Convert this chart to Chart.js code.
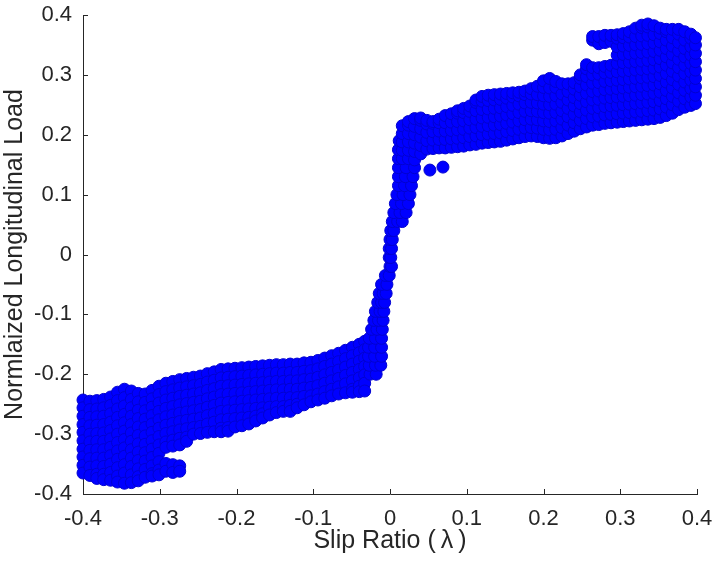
<!DOCTYPE html>
<html>
<head>
<meta charset="utf-8">
<title>Slip ratio vs longitudinal load</title>
<script src="https://cdn.jsdelivr.net/npm/chart.js@4.4.0/dist/chart.umd.min.js"></script>
<style>
  html, body { margin: 0; padding: 0; background: #fff; }
  canvas { display: block; }
</style>
</head>
<body>
<canvas id="slipChart" width="713" height="565"></canvas>
<script>
// axis ticks
const slipTicks = [-0.4, -0.3, -0.2, -0.1, 0, 0.1, 0.2, 0.3, 0.4];
const slipLabels = ['-0.4', '-0.3', '-0.2', '-0.1', '0', '0.1', '0.2', '0.3', '0.4'];
const loadTicks = [-0.4, -0.3, -0.2, -0.1, 0, 0.1, 0.2, 0.3, 0.4];
const loadLabels = ['-0.4', '-0.3', '-0.2', '-0.1', '0', '0.1', '0.2', '0.3', '0.4'];

// measured samples, grouped by part of the curve
// column form: [slip, load, load, ...]
const leftBlock = [
  [-0.400, -0.243, -0.256, -0.270, -0.284, -0.297, -0.311, -0.325, -0.338, -0.352, -0.365],
  [-0.391, -0.245, -0.259, -0.272, -0.286, -0.300, -0.313, -0.327, -0.341, -0.355, -0.369],
  [-0.382, -0.244, -0.258, -0.271, -0.285, -0.299, -0.312, -0.326, -0.340, -0.353, -0.367, -0.374],
  [-0.373, -0.242, -0.256, -0.270, -0.284, -0.298, -0.312, -0.326, -0.340, -0.354, -0.367, -0.376],
  [-0.364, -0.238, -0.252, -0.266, -0.280, -0.294, -0.308, -0.322, -0.336, -0.350, -0.364, -0.377],
  [-0.355, -0.230, -0.244, -0.258, -0.272, -0.286, -0.300, -0.314, -0.328, -0.342, -0.356, -0.370, -0.380],
  [-0.346, -0.225, -0.239, -0.253, -0.267, -0.281, -0.295, -0.309, -0.323, -0.337, -0.351, -0.365, -0.382],
  [-0.337, -0.228, -0.242, -0.256, -0.270, -0.284, -0.298, -0.312, -0.326, -0.340, -0.354, -0.368, -0.381],
  [-0.328, -0.232, -0.246, -0.260, -0.274, -0.288, -0.302, -0.316, -0.330, -0.344, -0.358, -0.371, -0.378],
  [-0.319, -0.233, -0.247, -0.261, -0.275, -0.289, -0.303, -0.317, -0.331, -0.345, -0.359, -0.372],
  [-0.310, -0.227, -0.241, -0.255, -0.269, -0.283, -0.297, -0.311, -0.325, -0.339, -0.353, -0.366, -0.370],
  [-0.301, -0.220, -0.234, -0.248, -0.262, -0.276, -0.290, -0.304, -0.318, -0.332, -0.346, -0.360, -0.368],
  [-0.292, -0.215, -0.229, -0.243, -0.257, -0.271, -0.285, -0.299, -0.313, -0.322, -0.349, -0.362],
  [-0.283, -0.212, -0.226, -0.240, -0.254, -0.268, -0.282, -0.296, -0.310, -0.320, -0.351, -0.364],
  [-0.274, -0.209, -0.223, -0.237, -0.251, -0.265, -0.279, -0.293, -0.307, -0.318, -0.353, -0.362],
  [-0.265, -0.207, -0.221, -0.235, -0.249, -0.263, -0.277, -0.291, -0.305, -0.312]
];

const lowerBand = [
  [-0.256, -0.205, -0.219, -0.233, -0.247, -0.261, -0.275, -0.289, -0.300],
  [-0.247, -0.203, -0.217, -0.231, -0.245, -0.259, -0.273, -0.287, -0.299],
  [-0.238, -0.199, -0.213, -0.227, -0.241, -0.255, -0.269, -0.283, -0.297],
  [-0.229, -0.196, -0.210, -0.224, -0.238, -0.252, -0.266, -0.280, -0.296],
  [-0.220, -0.192, -0.206, -0.220, -0.234, -0.248, -0.262, -0.276, -0.290, -0.296],
  [-0.211, -0.191, -0.205, -0.219, -0.233, -0.247, -0.261, -0.275, -0.289, -0.295],
  [-0.202, -0.190, -0.204, -0.218, -0.232, -0.246, -0.260, -0.274, -0.288],
  [-0.193, -0.189, -0.203, -0.217, -0.231, -0.245, -0.259, -0.273, -0.286],
  [-0.184, -0.188, -0.202, -0.216, -0.230, -0.244, -0.258, -0.272, -0.283],
  [-0.175, -0.187, -0.201, -0.215, -0.229, -0.243, -0.257, -0.270, -0.278],
  [-0.166, -0.186, -0.200, -0.214, -0.228, -0.242, -0.256, -0.266, -0.273],
  [-0.157, -0.185, -0.199, -0.213, -0.227, -0.241, -0.255, -0.268],
  [-0.148, -0.184, -0.198, -0.212, -0.226, -0.240, -0.254, -0.264],
  [-0.139, -0.184, -0.198, -0.212, -0.226, -0.240, -0.254, -0.262],
  [-0.130, -0.183, -0.197, -0.211, -0.225, -0.239, -0.252, -0.262],
  [-0.121, -0.183, -0.197, -0.211, -0.225, -0.239, -0.250, -0.256],
  [-0.112, -0.181, -0.195, -0.209, -0.223, -0.237, -0.251],
  [-0.103, -0.180, -0.194, -0.208, -0.222, -0.236, -0.246],
  [-0.094, -0.177, -0.191, -0.205, -0.219, -0.233, -0.243],
  [-0.085, -0.173, -0.187, -0.201, -0.215, -0.229, -0.240],
  [-0.076, -0.169, -0.183, -0.197, -0.211, -0.225, -0.236],
  [-0.067, -0.165, -0.179, -0.193, -0.207, -0.221, -0.233],
  [-0.058, -0.160, -0.174, -0.188, -0.202, -0.216, -0.231],
  [-0.049, -0.155, -0.169, -0.183, -0.197, -0.211, -0.225, -0.230],
  [-0.040, -0.150, -0.164, -0.178, -0.192, -0.206, -0.220, -0.229],
  [-0.033, -0.145, -0.159, -0.173, -0.187, -0.201, -0.215, -0.228]
];

// row form: [load, slip, slip, ...]
const steepRise = [
  [-0.200, -0.026, -0.018],
  [-0.185, -0.027, -0.019, -0.012],
  [-0.170, -0.028, -0.020, -0.011],
  [-0.155, -0.028, -0.020, -0.011],
  [-0.140, -0.027, -0.019, -0.011],
  [-0.125, -0.024, -0.017, -0.010],
  [-0.110, -0.021, -0.015, -0.009],
  [-0.095, -0.019, -0.013, -0.008],
  [-0.080, -0.016, -0.011, -0.007],
  [-0.065, -0.014, -0.009, -0.005],
  [-0.050, -0.011, -0.004],
  [-0.035, -0.006, -0.001],
  [-0.020, 0.000, 0.002],
  [-0.005, -0.001, 0.001],
  [0.010, -0.001, 0.002],
  [0.025, 0.000, 0.003],
  [0.040, 0.001, 0.005],
  [0.055, 0.003, 0.010, 0.016],
  [0.070, 0.005, 0.013, 0.021],
  [0.085, 0.007, 0.015, 0.024],
  [0.100, 0.009, 0.017, 0.026],
  [0.115, 0.011, 0.019, 0.028],
  [0.130, 0.011, 0.020, 0.030],
  [0.145, 0.011, 0.021, 0.032],
  [0.160, 0.011],
  [0.175, 0.011],
  [0.190, 0.012]
];

const upperBand = [
  [0.016, 0.160, 0.174, 0.188, 0.202, 0.215],
  [0.024, 0.160, 0.174, 0.188, 0.202, 0.216, 0.222],
  [0.032, 0.158, 0.172, 0.186, 0.200, 0.214, 0.227],
  [0.040, 0.168, 0.182, 0.196, 0.210, 0.224, 0.228],
  [0.048, 0.176, 0.190, 0.204, 0.218, 0.224],
  [0.052, 0.141],
  [0.056, 0.177, 0.191, 0.205, 0.219, 0.222],
  [0.064, 0.178, 0.192, 0.206, 0.220, 0.226],
  [0.069, 0.146],
  [0.072, 0.178, 0.192, 0.206, 0.220, 0.232],
  [0.080, 0.179, 0.193, 0.207, 0.221, 0.235],
  [0.088, 0.180, 0.194, 0.208, 0.222, 0.236, 0.240],
  [0.096, 0.181, 0.195, 0.209, 0.223, 0.237, 0.244],
  [0.104, 0.183, 0.197, 0.211, 0.225, 0.239, 0.248],
  [0.112, 0.184, 0.198, 0.212, 0.226, 0.240, 0.254, 0.258],
  [0.120, 0.186, 0.200, 0.214, 0.228, 0.242, 0.256, 0.264],
  [0.128, 0.187, 0.201, 0.215, 0.229, 0.243, 0.257, 0.266],
  [0.136, 0.188, 0.202, 0.216, 0.230, 0.244, 0.258, 0.267],
  [0.144, 0.189, 0.203, 0.217, 0.231, 0.245, 0.259, 0.268],
  [0.152, 0.191, 0.205, 0.219, 0.233, 0.247, 0.261, 0.269],
  [0.160, 0.193, 0.207, 0.221, 0.235, 0.249, 0.263, 0.270],
  [0.168, 0.195, 0.209, 0.223, 0.237, 0.251, 0.265, 0.271],
  [0.176, 0.197, 0.211, 0.225, 0.239, 0.253, 0.267, 0.273],
  [0.184, 0.198, 0.212, 0.226, 0.240, 0.254, 0.268, 0.277],
  [0.192, 0.197, 0.211, 0.225, 0.239, 0.253, 0.267, 0.281],
  [0.200, 0.195, 0.209, 0.223, 0.237, 0.251, 0.265, 0.279, 0.290],
  [0.208, 0.194, 0.208, 0.222, 0.236, 0.250, 0.264, 0.278, 0.294],
  [0.216, 0.195, 0.209, 0.223, 0.237, 0.251, 0.265, 0.279, 0.289],
  [0.224, 0.198, 0.212, 0.226, 0.240, 0.254, 0.268, 0.285],
  [0.232, 0.202, 0.216, 0.230, 0.244, 0.258, 0.272, 0.285],
  [0.240, 0.206, 0.220, 0.234, 0.248, 0.262, 0.276, 0.287],
  [0.248, 0.210, 0.224, 0.238, 0.252, 0.266, 0.280, 0.294, 0.300],
  [0.256, 0.213, 0.227, 0.241, 0.255, 0.269, 0.283, 0.297, 0.310, 0.317],
  [0.264, 0.216, 0.230, 0.244, 0.258, 0.272, 0.286, 0.300, 0.312, 0.358, 0.364]
];

const rightBlock = [
  [0.272, 0.217, 0.231, 0.245, 0.259, 0.273, 0.287, 0.301, 0.312, 0.352, 0.364],
  [0.280, 0.219, 0.233, 0.247, 0.261, 0.275, 0.289, 0.303, 0.314, 0.354, 0.366],
  [0.288, 0.220, 0.234, 0.248, 0.262, 0.276, 0.290, 0.304, 0.316, 0.356, 0.366],
  [0.296, 0.221, 0.235, 0.249, 0.263, 0.277, 0.291, 0.305, 0.319, 0.333, 0.347, 0.361, 0.367],
  [0.304, 0.222, 0.236, 0.250, 0.264, 0.278, 0.292, 0.306, 0.320, 0.334, 0.348, 0.362, 0.369],
  [0.312, 0.223, 0.237, 0.251, 0.265, 0.279, 0.293, 0.307, 0.321, 0.335, 0.349, 0.363, 0.372],
  [0.320, 0.224, 0.238, 0.252, 0.266, 0.280, 0.294, 0.308, 0.322, 0.336, 0.350, 0.364, 0.378],
  [0.328, 0.225, 0.239, 0.253, 0.267, 0.281, 0.295, 0.309, 0.323, 0.337, 0.351, 0.365, 0.379, 0.383],
  [0.336, 0.226, 0.240, 0.254, 0.268, 0.282, 0.296, 0.310, 0.324, 0.338, 0.352, 0.366, 0.380, 0.385],
  [0.344, 0.227, 0.241, 0.255, 0.269, 0.283, 0.297, 0.311, 0.325, 0.339, 0.353, 0.367, 0.382],
  [0.352, 0.229, 0.243, 0.257, 0.271, 0.285, 0.299, 0.313, 0.327, 0.341, 0.355, 0.369, 0.378],
  [0.360, 0.232, 0.246, 0.260, 0.274, 0.288, 0.302, 0.316, 0.330, 0.344, 0.358, 0.372, 0.376],
  [0.368, 0.236, 0.250, 0.264, 0.278, 0.292, 0.306, 0.320, 0.334, 0.348, 0.362, 0.376],
  [0.376, 0.242, 0.256, 0.270, 0.284, 0.298, 0.312, 0.326, 0.340, 0.354, 0.368, 0.376],
  [0.384, 0.246, 0.260, 0.274, 0.288, 0.302, 0.316, 0.330, 0.344, 0.358, 0.372],
  [0.392, 0.249, 0.263, 0.277, 0.291, 0.305, 0.319, 0.333, 0.347, 0.361, 0.368],
  [0.398, 0.252, 0.266, 0.280, 0.294, 0.308, 0.322, 0.336, 0.350, 0.362]
];

function fromColumns(cols) {
  const pts = [];
  cols.forEach(([x, ...ys]) => ys.forEach(y => pts.push({ x: x, y: y })));
  return pts;
}

function fromRows(rows) {
  const pts = [];
  rows.forEach(([y, ...xs]) => xs.forEach(x => pts.push({ x: x, y: y })));
  return pts;
}

const points = [].concat(
  fromColumns(leftBlock),
  fromColumns(lowerBand),
  fromRows(steepRise),
  fromColumns(upperBand),
  fromColumns(rightBlock)
);

const axisColor = '#262626';
Chart.defaults.font.family = "'Liberation Sans', Arial, sans-serif";
Chart.defaults.color = axisColor;

// short tick marks pointing into the plot, drawn under the markers
const innerTicks = {
  id: 'innerTicks',
  beforeDatasetsDraw(chart) {
    const { ctx, chartArea, scales } = chart;
    ctx.save();
    ctx.strokeStyle = axisColor;
    ctx.lineWidth = 1;
    ctx.beginPath();
    scales.x.ticks.forEach(t => {
      const px = Math.round(scales.x.getPixelForValue(t.value)) + 0.5;
      ctx.moveTo(px, chartArea.bottom);
      ctx.lineTo(px, chartArea.bottom - 5);
    });
    scales.y.ticks.forEach(t => {
      const py = Math.round(scales.y.getPixelForValue(t.value)) + 0.5;
      ctx.moveTo(chartArea.left, py);
      ctx.lineTo(chartArea.left + 5, py);
    });
    ctx.stroke();
    ctx.restore();
  }
};

new Chart(document.getElementById('slipChart'), {
  type: 'scatter',
  data: {
    datasets: [{
      data: points,
      backgroundColor: '#0000ff',
      borderColor: '#0000d0',
      borderWidth: 1,
      pointRadius: 6,
      pointHoverRadius: 6,
      clip: false
    }]
  },
  options: {
    responsive: false,
    animation: false,
    devicePixelRatio: 1,
    events: [],
    layout: { padding: { top: 15, right: 16, bottom: 0, left: 0 } },
    plugins: {
      legend: { display: false },
      tooltip: { enabled: false }
    },
    scales: {
      x: {
        type: 'linear',
        min: -0.4,
        max: 0.4,
        afterBuildTicks: s => { s.ticks = slipTicks.map(v => ({ value: v })); },
        afterFit: s => {
          s.height = 71;
          s.paddingLeft = 0;
          s.paddingRight = 0;
        },
        grid: { display: false, drawTicks: false },
        border: { display: true, color: axisColor, width: 1 },
        ticks: {
          autoSkip: false,
          maxRotation: 0,
          padding: 12,
          font: { size: 22 },
          callback: (v, i) => slipLabels[i]
        },
        title: {
          display: true,
          text: 'Slip Ratio (\u2009λ\u2009)',
          font: { size: 25 },
          padding: { top: 0, bottom: 9 }
        }
      },
      y: {
        type: 'linear',
        min: -0.4,
        max: 0.4,
        afterBuildTicks: s => { s.ticks = loadTicks.map(v => ({ value: v })); },
        afterFit: s => {
          s.width = 83;
          s.paddingTop = 0;
          s.paddingBottom = 0;
        },
        grid: { display: false, drawTicks: false },
        border: { display: true, color: axisColor, width: 1 },
        ticks: {
          autoSkip: false,
          padding: 11,
          font: { size: 22 },
          callback: (v, i) => loadLabels[i]
        },
        title: {
          display: true,
          text: 'Normlaized Longitudinal Load',
          font: { size: 25 },
          padding: { top: 0, bottom: 0 }
        }
      }
    }
  },
  plugins: [innerTicks]
});
</script>
</body>
</html>
